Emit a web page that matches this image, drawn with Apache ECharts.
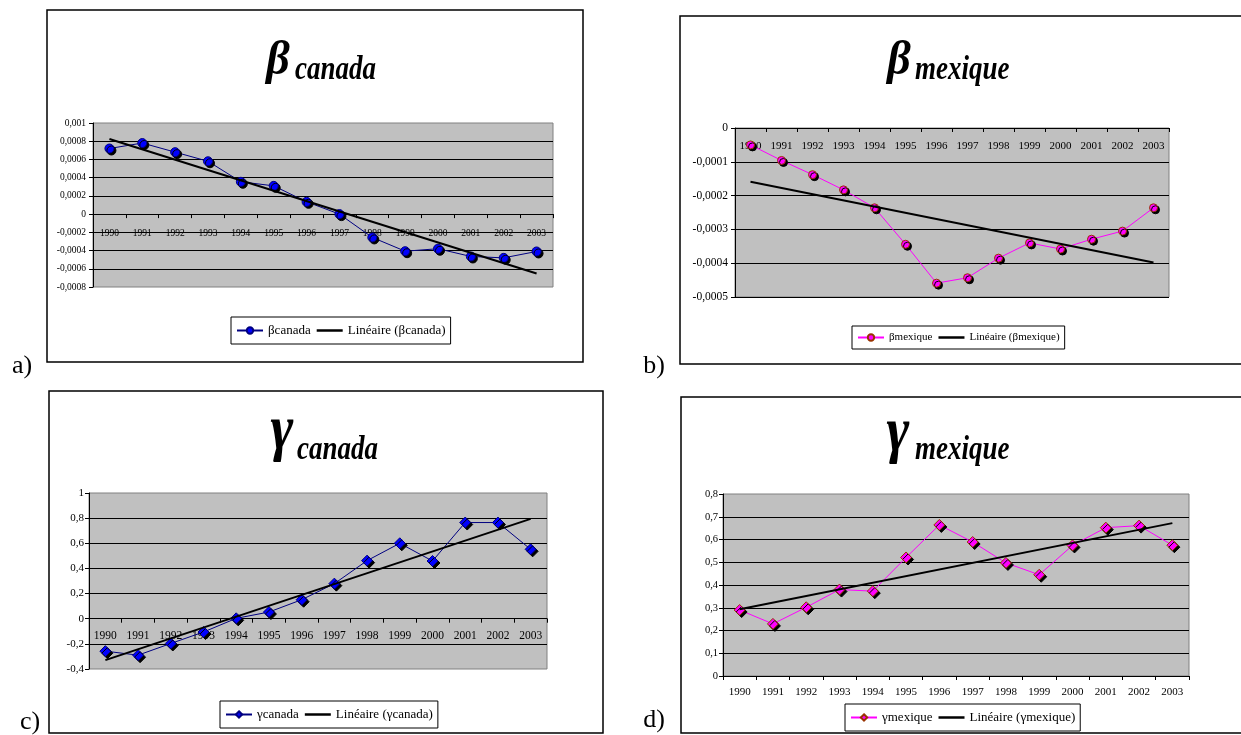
<!DOCTYPE html>
<html><head><meta charset="utf-8">
<script src="https://cdn.jsdelivr.net/npm/echarts@6/dist/echarts.min.js"></script>
<style>html,body{margin:0;padding:0;background:#fff}#c{width:1241px;height:735px}</style>
</head><body><div id="c"></div>
<script>
// ---- data ----
const years = ['1990','1991','1992','1993','1994','1995','1996','1997','1998','1999','2000','2001','2002','2003'];
const betaCanada = [0.00072, 0.00078, 0.00068, 0.00058, 0.000355, 0.00031, 0.000135, 0.0, -0.000256, -0.000407, -0.00038, -0.000465, -0.00048, -0.00041];
const betaCanadaTrend = [0.000824, -0.000652];
const betaMexique = [-0.00005, -0.000096, -0.000138, -0.000183, -0.000236, -0.000344, -0.000459, -0.000443, -0.000385, -0.00034, -0.000358, -0.000329, -0.000305, -0.000236];
const betaMexiqueTrend = [-0.000159, -0.000398];
const gammaCanada = [-0.258, -0.29, -0.197, -0.106, 0.003, 0.053, 0.151, 0.279, 0.462, 0.6, 0.459, 0.765, 0.765, 0.552];
const gammaCanadaTrend = [-0.329, 0.794];
const gammaMexique = [0.29, 0.229, 0.302, 0.38, 0.373, 0.521, 0.664, 0.589, 0.497, 0.445, 0.574, 0.652, 0.661, 0.575];
const gammaMexiqueTrend = [0.293, 0.672];
const seriesNames = ['βcanada', 'βmexique', 'γcanada', 'γmexique'];
const trendNames = ['Linéaire (βcanada)', 'Linéaire (βmexique)', 'Linéaire (γcanada)', 'Linéaire (γmexique)'];
const yRanges = [[-0.0008, 0.001, 0.0002], [-0.0005, 0, 0.0001], [-0.4, 1, 0.2], [0, 0.8, 0.1]];
const panelLetters = ['a)', 'b)', 'c)', 'd)'];
const titleGreek = ['β', 'β', 'γ', 'γ'];
const titleSub = ['canada', 'mexique', 'canada', 'mexique'];

const values = [betaCanada, betaMexique, gammaCanada, gammaMexique];
const trends = [betaCanadaTrend, betaMexiqueTrend, gammaCanadaTrend, gammaMexiqueTrend];

// ---- layout / styles ----
const FONT = 'Liberation Serif';
const NAVY = '#000080', MAG = '#FF00FF';
const P = [
  {grid:{left:93, top:123, width:460, height:164}, yFont:9.5, xFont:9.5, xMargin:14, yMargin:7,
   lc:NAVY, sym:'circle', ss:9, sc:'#0000FF', sb:NAVY, showMin:false,
   leg:{left:231, top:317, fs:13, pad:[7,5,7,5]},
   box:[47,10,536,352], lab:[22,366], gx:278, gy:62, gF:46, gS:1.05, sx:295, sy:70},
  {grid:{left:735, top:128, width:434, height:169}, yFont:11.5, xFont:11, xMargin:13, yMargin:7,
   lc:MAG, sym:'circle', ss:8, sc:MAG, sb:'#993300', showMin:true,
   leg:{left:852, top:326, fs:11, pad:[6,5,6,5]},
   box:[680,16,600,348], lab:[654,366], gx:899, gy:62, gF:46, gS:1.05, sx:915, sy:70},
  {grid:{left:89, top:493, width:458, height:176}, yFont:11, xFont:11.5, xMargin:11.5, yMargin:5,
   lc:NAVY, sym:'diamond', ss:11, sc:'#0000FF', sb:NAVY, showMin:false,
   leg:{left:220, top:701, fs:13, pad:[7,5,7,5]},
   box:[49,391,554,342], lab:[30,722], gx:282, gy:432, gF:55, gS:1.16, sx:297, sy:450},
  {grid:{left:723, top:494, width:466, height:182}, yFont:10.5, xFont:11, xMargin:11, yMargin:5,
   lc:MAG, sym:'diamond', ss:11, sc:MAG, sb:'#993300', showMin:true,
   leg:{left:845, top:704, fs:13, pad:[7,5,7,5]},
   box:[681,397,600,336], lab:[654,720], gx:898, gy:434, gF:55, gS:1.16, sx:915, sy:450}
];

const fmt = v => String(parseFloat(v.toFixed(6))).replace('.', ',');
const CLEAR = 'rgba(0,0,0,0)';
const LINE_ICON = 'path://M0,0H26V2.5H0Z';

const grids = [], xAxes = [], yAxes = [], series = [], legends = [], graphics = [];
P.forEach((p, i) => {
  const [mn, mx] = yRanges[i];
  // the category axis crosses the value axis at 0 (as in the reference)
  const zeroOffset = -p.grid.height * (0 - mn) / (mx - mn);
  grids.push(Object.assign({show:true, backgroundColor:'#C0C0C0', borderColor:'#808080', borderWidth:1}, p.grid));
  xAxes.push({type:'category', gridIndex:i, data:years, boundaryGap:true, position:'bottom', offset:zeroOffset,
    axisLine:{onZero:false, lineStyle:{color:'#000', width:1}},
    axisTick:{show:true, length:4, inside:false, alignWithLabel:false, lineStyle:{color:'#000'}},
    axisLabel:{interval:0, margin:p.xMargin, fontSize:p.xFont, fontFamily:FONT, color:'#000'},
    splitLine:{show:false}});
  yAxes.push({type:'value', gridIndex:i, min:mn, max:mx, interval:yRanges[i][2],
    axisLine:{show:true, onZero:false, lineStyle:{color:'#000', width:1}},
    axisTick:{show:true, length:4, lineStyle:{color:'#000'}},
    axisLabel:{margin:p.yMargin, fontSize:p.yFont, fontFamily:FONT, color:'#000', formatter:fmt},
    splitLine:{show:true, showMinLine:p.showMin, showMaxLine:false, lineStyle:{color:'#000', width:1}}});
  series.push({name:seriesNames[i], type:'line', xAxisIndex:i, yAxisIndex:i, data:values[i],
    symbol:p.sym, symbolSize:p.ss, showSymbol:true, color:p.sc,
    lineStyle:{color:p.lc, width:1},
    itemStyle:{color:p.sc, borderColor:p.sb, borderWidth:1, shadowColor:'#000', shadowOffsetX:2, shadowOffsetY:2, shadowBlur:0},
    z:2, silent:true});
  series.push({name:trendNames[i], type:'line', xAxisIndex:i, yAxisIndex:i,
    data:[[0, trends[i][0]], [years.length - 1, trends[i][1]]],
    symbol:'none', color:'#000', lineStyle:{color:'#000', width:2}, z:3, silent:true});
  legends.push({show:true, left:p.leg.left, top:p.leg.top, orient:'horizontal',
    data:[
      {name:seriesNames[i], itemStyle:{shadowColor:CLEAR, shadowOffsetX:0, shadowOffsetY:0}},
      {name:trendNames[i], icon:LINE_ICON}
    ], selectedMode:false,
    borderColor:'#000', borderWidth:1, backgroundColor:'#fff', padding:p.leg.pad,
    itemGap:6, itemWidth:26, itemHeight:8,
    textStyle:{fontFamily:FONT, fontSize:p.leg.fs, color:'#000'}});
  graphics.push({type:'rect', shape:{x:p.box[0], y:p.box[1], width:p.box[2], height:p.box[3]},
    style:{fill:'rgba(0,0,0,0)', stroke:'#000', lineWidth:1.5}, z:-10, silent:true});
  graphics.push({type:'text', x:p.lab[0], y:p.lab[1], silent:true,
    style:{text:panelLetters[i], fontFamily:FONT, fontSize:26, fill:'#000', align:'center', verticalAlign:'middle'}});
  graphics.push({type:'text', x:p.gx, y:p.gy, scaleY:p.gS, silent:true,
    style:{text:titleGreek[i], fontFamily:FONT, fontStyle:'italic', fontWeight:'bold', fontSize:p.gF, fill:'#000', align:'center', verticalAlign:'middle'}});
  graphics.push({type:'text', x:p.sx, y:p.sy, scaleY:1.25, silent:true,
    style:{text:titleSub[i], fontFamily:FONT, fontStyle:'italic', fontWeight:'bold', fontSize:27, fill:'#000', align:'left', verticalAlign:'middle'}});
});

const chart = echarts.init(document.getElementById('c'), null, {renderer:'canvas'});
chart.setOption({
  backgroundColor:'#fff', animation:false,
  grid:grids, xAxis:xAxes, yAxis:yAxes, series:series, legend:legends,
  graphic:{elements:graphics}
});
</script></body></html>
